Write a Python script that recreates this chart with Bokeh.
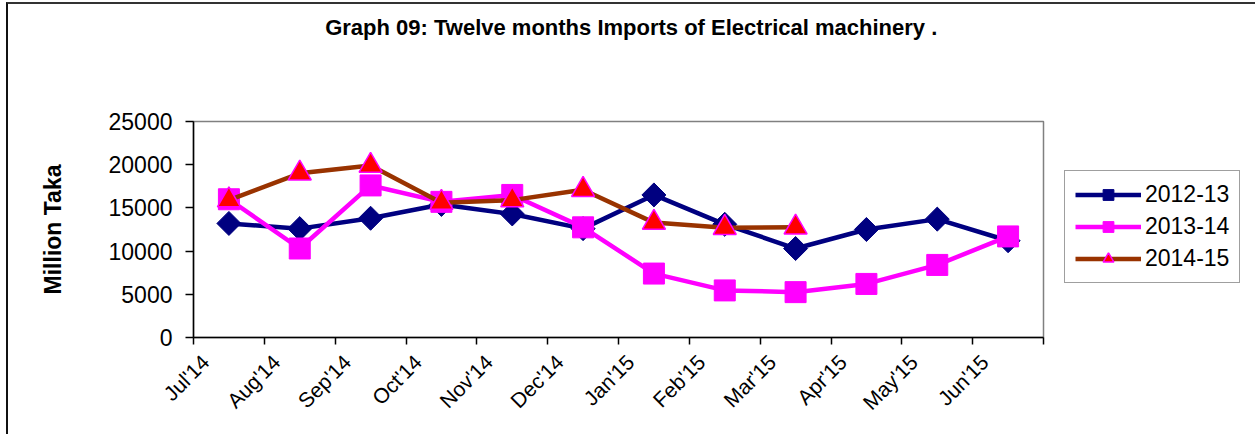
import math
from bokeh.plotting import figure
from bokeh.models import (FixedTicker, Legend, LegendItem, Range1d, LinearAxis)
from bokeh.embed import file_html
from bokeh.resources import INLINE

months = ["Jul'14", "Aug'14", "Sep'14", "Oct'14", "Nov'14", "Dec'14",
          "Jan'15", "Feb'15", "Mar'15", "Apr'15", "May'15", "Jun'15"]
s2012_13 = [13200, 12600, 13800, 15400, 14300, 12600, 16500, 13100, 10300, 12500, 13700, 11200]
s2013_14 = [16000, 10300, 17600, 15700, 16500, 12750, 7400, 5450, 5250, 6200, 8400, 11700]
s2014_15 = [15900, 19000, 19900, 15600, 15900, 17100, 13300, 12700, 12750]
y_ticks = [0, 5000, 10000, 15000, 20000, 25000]
title_text = "Graph 09: Twelve months Imports of Electrical machinery ."

FONT = "Liberation Sans"

p = figure(frame_width=850, frame_height=216, output_backend="svg",
           toolbar_location=None,
           x_range=Range1d(0, len(months)), y_range=Range1d(0, 25000),
           min_border_left=185, min_border_right=204, min_border_top=117,
           min_border_bottom=97)
p.background_fill_color = "white"
p.border_fill_color = "white"
p.outline_line_color = "#808080"
p.outline_line_width = 1.5
p.grid.visible = False
p.styles = {"border-top": "2px solid #333333", "border-left": "2px solid #111111",
            "margin-left": "6px", "margin-top": "2px"}

xs = [i + 0.5 for i in range(len(months))]

l1 = p.line(xs, s2012_13, line_color="#000080", line_width=4.5)
m1 = p.scatter(xs, s2012_13, marker="square", angle=math.pi / 4, size=17,
               fill_color="#000080", line_color="#000080")
l2 = p.line(xs, s2013_14, line_color="#FF00FF", line_width=4.5)
m2 = p.scatter(xs, s2013_14, marker="square", size=21,
               fill_color="#FF00FF", line_color="#FF00FF")
xs3 = xs[:len(s2014_15)]
l3 = p.line(xs3, s2014_15, line_color="#993300", line_width=4.5)
m3 = p.scatter(xs3, s2014_15, marker="triangle", size=23,
               fill_color="#FF0000", line_color="#FF00FF", line_width=1.5)

# x axis: tick marks at category boundaries (labels hidden)
p.xaxis.ticker = FixedTicker(ticks=list(range(len(months) + 1)))
p.xaxis.major_label_overrides = {i: "" for i in range(len(months) + 1)}
p.xaxis.major_label_standoff = 0
p.xaxis.major_tick_out = 7
p.xaxis.major_tick_in = 0
p.xaxis.minor_tick_line_color = None
p.xaxis.axis_line_color = "black"
p.xaxis.axis_line_width = 1.5
p.xaxis.major_tick_line_width = 1.5

# second x axis carrying the month labels, slightly offset like the original
label_pos = [round(i + 0.17, 2) for i in range(len(months))]
xlab = LinearAxis(ticker=FixedTicker(ticks=label_pos),
                  major_label_overrides={v: m for v, m in zip(label_pos, months)},
                  axis_line_color=None, major_tick_line_color=None,
                  minor_tick_line_color=None,
                  major_label_orientation=math.pi / 4,
                  major_label_text_font=FONT,
                  major_label_text_font_size="21px",
                  major_label_text_color="black",
                  major_label_standoff=8)
p.add_layout(xlab, "below")

p.yaxis.ticker = FixedTicker(ticks=y_ticks)
p.yaxis.major_label_text_font = FONT
p.yaxis.major_label_text_font_size = "23px"
p.yaxis.major_label_text_color = "black"
p.yaxis.major_tick_out = 8
p.yaxis.major_tick_in = 0
p.yaxis.minor_tick_line_color = None
p.yaxis.axis_line_color = "black"
p.yaxis.axis_line_width = 1.5
p.yaxis.major_tick_line_width = 1.5
p.yaxis.major_label_standoff = 13
p.yaxis.axis_label = "Million Taka"
p.yaxis.axis_label_text_font = FONT
p.yaxis.axis_label_text_font_style = "bold"
p.yaxis.axis_label_text_font_size = "23px"
p.yaxis.axis_label_text_color = "black"
p.yaxis.axis_label_standoff = 40

# title, drawn as the single label of an invisible axis above the frame
title_pos = 6.18
title_axis = LinearAxis(ticker=FixedTicker(ticks=[title_pos]),
                        major_label_overrides={title_pos: title_text},
                        axis_line_color=None, major_tick_line_color=None,
                        minor_tick_line_color=None,
                        major_label_text_font=FONT,
                        major_label_text_font_size="22px",
                        major_label_text_font_style="bold",
                        major_label_text_color="black",
                        major_label_standoff=76)
p.add_layout(title_axis, "above")

# legend
legend = Legend(items=[LegendItem(label="2012-13", renderers=[l1, m1]),
                       LegendItem(label="2013-14", renderers=[l2, m2]),
                       LegendItem(label="2014-15", renderers=[l3, m3])],
                location=(21, 54), orientation="vertical")
legend.label_text_font = FONT
legend.label_text_font_size = "23px"
legend.label_text_color = "black"
legend.glyph_width = 66
legend.glyph_height = 27
legend.label_height = 27
legend.spacing = 5
legend.padding = 10
legend.margin = 0
legend.label_standoff = 4
legend.border_line_color = "#404040"
legend.border_line_width = 1.5
legend.background_fill_alpha = 1
p.add_layout(legend, "right")

open("out.html", "w").write(file_html(p, INLINE))
